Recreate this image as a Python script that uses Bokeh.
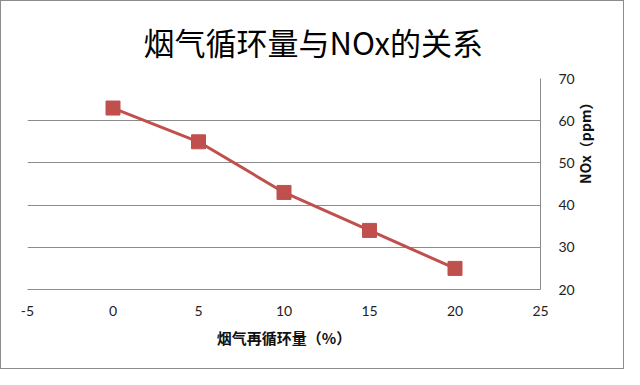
import math
from bokeh.plotting import figure
from bokeh.models import Range1d, FixedTicker
from bokeh.embed import file_html
from bokeh.resources import INLINE

# data
recirc = [0, 5, 10, 15, 20]
nox = [63, 55, 43, 34, 25]
x_ticks = [-5, 0, 5, 10, 15, 20, 25]
y_ticks = [20, 30, 40, 50, 60, 70]
title_text = "烟气循环量与NOx的关系"
x_title = "烟气再循环量（%）"
y_title = "NOx（ppm）"

RED = "#C0504D"
GRID = "#8C8C8C"
NUM_FONT = "Lato, 'Noto Sans CJK SC', sans-serif"
CJK_FONT = "'Noto Sans CJK SC', sans-serif"

p = figure(width=624, height=369, output_backend="svg", toolbar_location=None,
           x_range=Range1d(-5, 25), y_range=Range1d(20, 70),
           y_axis_location="right", title=title_text,
           min_border_left=26, min_border_right=85,
           min_border_top=74, min_border_bottom=81)
p.outline_line_color = None
p.background_fill_color = "white"
p.border_fill_color = "white"

p.title.align = "left"
p.title.offset = 116
p.title.standoff = 30
p.title.text_font = CJK_FONT
p.title.text_font_size = "31px"
p.title.text_font_style = "normal"
p.title.text_color = "#000000"

p.xgrid.grid_line_color = None
p.ygrid.grid_line_color = GRID
p.ygrid.grid_line_width = 1
p.ygrid.ticker = FixedTicker(ticks=y_ticks)

xa = p.xaxis[0]
xa.ticker = FixedTicker(ticks=x_ticks)
xa.major_label_overrides = {t: str(t) for t in x_ticks}
xa.axis_line_color = GRID
xa.major_tick_line_color = None
xa.minor_tick_line_color = None
xa.major_label_standoff = 10
xa.major_label_text_font = NUM_FONT
xa.major_label_text_font_size = "14px"
xa.major_label_text_color = "#222222"
xa.axis_label = x_title
xa.axis_label_text_font = CJK_FONT
xa.axis_label_text_font_style = "bold"
xa.axis_label_text_font_size = "15px"
xa.axis_label_text_color = "#111111"
xa.axis_label_standoff = 8

ya = p.yaxis[0]
ya.ticker = FixedTicker(ticks=y_ticks)
ya.axis_line_color = GRID
ya.major_tick_line_color = None
ya.minor_tick_line_color = None
ya.major_label_standoff = 12
ya.major_label_text_font = NUM_FONT
ya.major_label_text_font_size = "14px"
ya.major_label_text_color = "#222222"
ya.axis_label = y_title
ya.axis_label_orientation = math.pi / 2
ya.axis_label_text_font = CJK_FONT
ya.axis_label_text_font_style = "bold"
ya.axis_label_text_font_size = "14px"
ya.axis_label_text_color = "#111111"
ya.axis_label_standoff = 7

p.line(recirc, nox, line_color=RED, line_width=3)
p.scatter(recirc, nox, marker="square", size=14, fill_color=RED, line_color=RED)

p.styles = {"border": "1px solid #8C8C8C"}

open("out.html", "w").write(file_html(p, INLINE))
